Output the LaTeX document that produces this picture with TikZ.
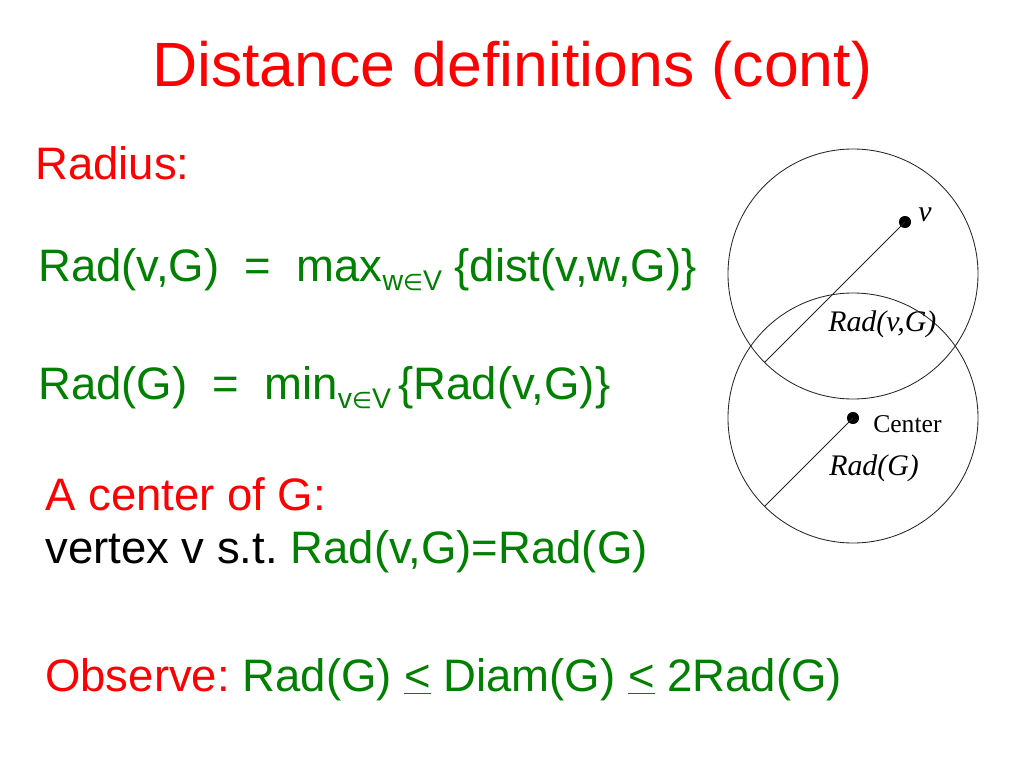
\documentclass[tikz,border=0pt]{standalone}
\usepackage{fontspec}
\setmainfont{Liberation Sans}
\newfontfamily\timesfont{Liberation Serif}
\newfontfamily\symbfont{DejaVu Sans}
\usepackage{xcolor}
\definecolor{slidegreen}{RGB}{0,128,0}
\usetikzlibrary{positioning}
\frenchspacing

% subscript in the slide text
\newcommand{\slidesub}[1]{\raisebox{-7pt}{\fontsize{20}{24}\selectfont #1}}
\newcommand{\elem}{{\symbfont\fontsize{16}{20}\selectfont ∈}}

\tikzset{
  bodytext/.style={anchor=base west, inner sep=0pt, font=\fontsize{32}{38}\selectfont},
  figlabel/.style={anchor=base west, inner sep=0pt, font=\timesfont\itshape\fontsize{21}{25}\selectfont},
  ring/.style={draw=black!85, line width=0.6pt},
  dot/.style={circle, fill=black, inner sep=0pt, minimum size=8.5pt},
}

\begin{document}
\begin{tikzpicture}[x=0.703125pt, y=-0.703125pt]
    \useasboundingbox (0,0) rectangle (1024,768);

    \node[anchor=base, inner sep=0pt, red, font=\fontsize{44}{52}\selectfont] (title)
        at (512,87) {Distance definitions (cont)};

    \node[bodytext, red] (radius) at (35,180) {Radius:};
    \node[bodytext, slidegreen] (radvg) at (38,281)
        {Rad(v,G)\ \ =\ \ max\slidesub{w\elem V}\ \{dist(v,w,G)\}};
    \node[bodytext, slidegreen] (radg) at (38,399)
        {Rad(G)\ \ =\ \ min\slidesub{v\elem V}\,\{Rad(v,G)\}};
    \node[bodytext, red] (centerof) at (45,510) {A center of G:};
    \node[bodytext] (vertex) at (45,563)
        {vertex v s.t. \textcolor{slidegreen}{Rad(v,G)=Rad(G)}};
    \node[bodytext, red] (observe) at (45,691)
        {Observe: \textcolor{slidegreen}{Rad(G) \underline{<} Diam(G) \underline{<} 2Rad(G)}};

    % the two balls
    \coordinate (upper) at (853,274);
    \coordinate (lower) at (853,418);
    \draw[ring] (upper) circle[radius=125];
    \draw[ring] (lower) circle[radius=125];

    \node[dot] (vdot) at (905,222) {};
    \node[dot] (cdot) at (lower) {};
    \coordinate (vend) at (764.6,362.4);
    \coordinate (cend) at (764.6,506.4);
    \draw[ring] (vdot.center) -- (vend);
    \draw[ring] (cdot.center) -- (cend);

    \node[figlabel] (vlbl) at (918,222) {v};
    \node[figlabel] (radvglbl) at (828,332) {Rad(v,G)};
    \node[figlabel, font=\timesfont\fontsize{18}{22}\selectfont] (centerlbl) at (873,432) {Center};
    \node[figlabel] (radglbl) at (829,475) {Rad(G)};
\end{tikzpicture}
\end{document}
